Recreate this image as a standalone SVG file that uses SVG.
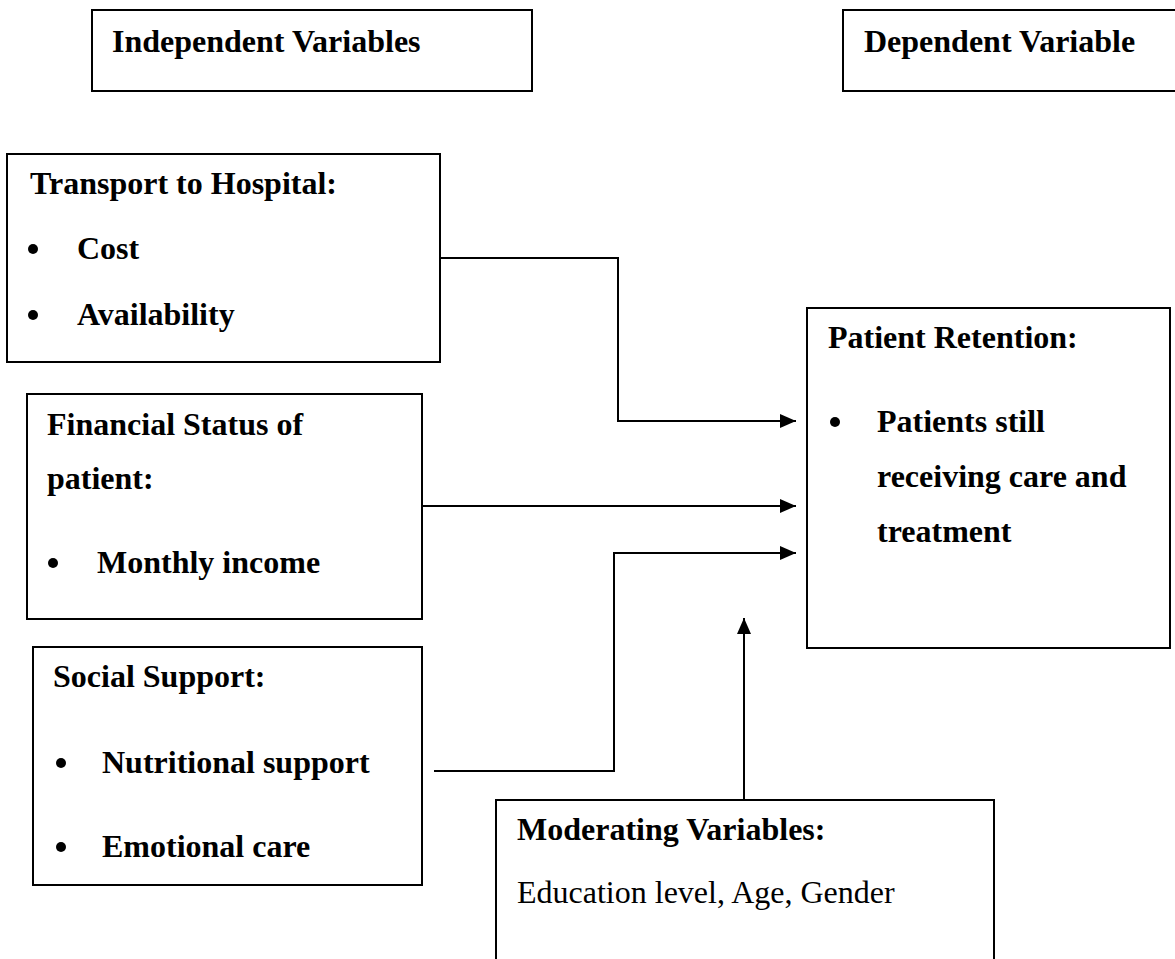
<svg xmlns="http://www.w3.org/2000/svg" width="1175" height="959" viewBox="0 0 1175 959">
<style>
.box{fill:#fff;stroke:#000;stroke-width:2}
.t{font-family:"Liberation Serif","Times New Roman",serif;font-size:32px;font-weight:bold;fill:#000}
.r{font-family:"Liberation Serif","Times New Roman",serif;font-size:32px;fill:#000}
.c{fill:none;stroke:#000;stroke-width:2}
.b{fill:#000}
</style>
<defs>
<marker id="ah" markerUnits="userSpaceOnUse" markerWidth="16" markerHeight="14" refX="16" refY="7" orient="auto">
<path d="M0,0 L16,7 L0,14 z" fill="#000"/>
</marker>
</defs>
<rect width="1175" height="959" fill="#fff"/>
<g id="connectors">
<path class="c" d="M440,258 H618 V421 H796" marker-end="url(#ah)"/>
<path class="c" d="M422,506 H796" marker-end="url(#ah)"/>
<path class="c" d="M434,771 H614 V553 H796" marker-end="url(#ah)"/>
<path class="c" d="M744,800 V618" marker-end="url(#ah)"/>
</g>
<g id="independent">
<rect class="box" x="92" y="10" width="440" height="81"/>
<text class="t" x="112" y="52">Independent Variables</text>
</g>
<g id="dependent">
<rect class="box" x="843" y="10" width="340" height="81"/>
<text class="t" x="864" y="52">Dependent Variable</text>
</g>
<g id="transport">
<rect class="box" x="7" y="154" width="433" height="208"/>
<text class="t" x="30" y="194">Transport to Hospital:</text>
<circle class="b" cx="33" cy="249" r="5"/>
<text class="t" x="77" y="259">Cost</text>
<circle class="b" cx="33" cy="315" r="5"/>
<text class="t" x="77" y="325">Availability</text>
</g>
<g id="financial">
<rect class="box" x="27" y="394" width="395" height="225"/>
<text class="t" x="47" y="435">Financial Status of</text>
<text class="t" x="47" y="489">patient:</text>
<circle class="b" cx="53" cy="563" r="5"/>
<text class="t" x="97" y="573">Monthly income</text>
</g>
<g id="social">
<rect class="box" x="33" y="647" width="389" height="238"/>
<text class="t" x="53" y="687">Social Support:</text>
<circle class="b" cx="61" cy="763" r="5"/>
<text class="t" x="102" y="773">Nutritional support</text>
<circle class="b" cx="61" cy="847" r="5"/>
<text class="t" x="102" y="857">Emotional care</text>
</g>
<g id="retention">
<rect class="box" x="807" y="308" width="363" height="340"/>
<text class="t" x="828" y="348">Patient Retention:</text>
<circle class="b" cx="835" cy="422" r="5"/>
<text class="t" x="877" y="432">Patients still</text>
<text class="t" x="877" y="487">receiving care and</text>
<text class="t" x="877" y="542">treatment</text>
</g>
<g id="moderating">
<rect class="box" x="496" y="800" width="498" height="170"/>
<text class="t" x="517" y="840">Moderating Variables:</text>
<text class="r" x="517" y="903">Education level, Age, Gender</text>
</g>
</svg>
